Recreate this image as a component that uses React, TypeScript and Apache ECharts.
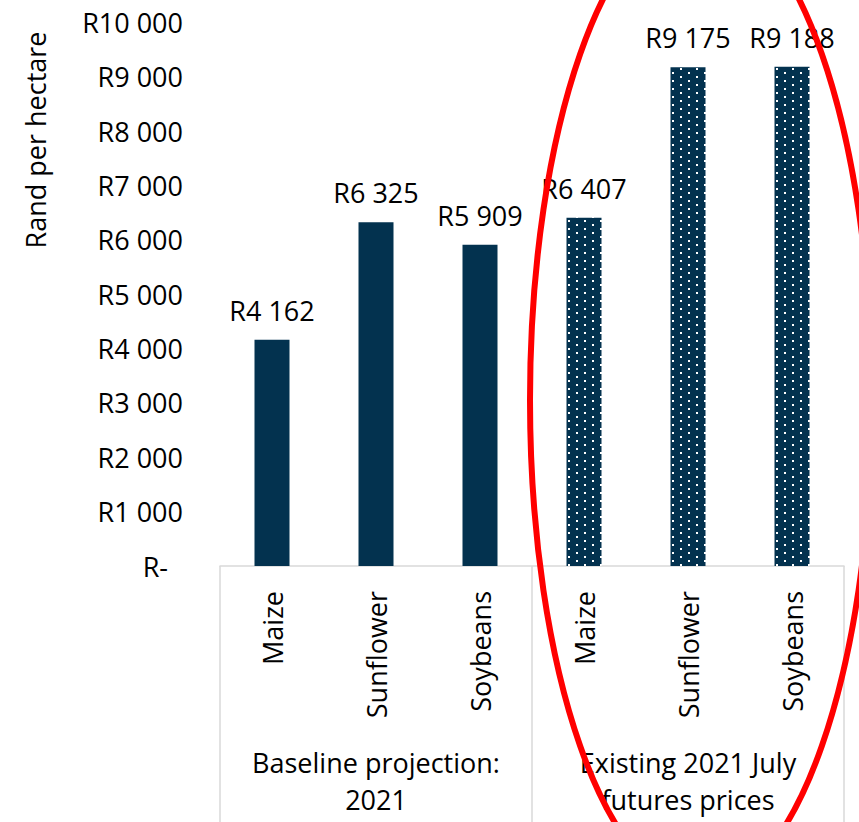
import React, { useEffect, useRef } from "react";
import * as echarts from "echarts";

const categories = ["Maize", "Sunflower", "Soybeans", "Maize", "Sunflower", "Soybeans"];
const groups = ["Baseline projection:\n2021", "Existing 2021 July\nfutures prices"];
const values = [4162, 6325, 5909, 6407, 9175, 9188];
const patterned = [false, false, false, true, true, true];
const yTicks = { min: 0, max: 10000, interval: 1000 };
const yAxisTitle = "Rand per hectare";

const NAVY = "#03324F";
const FONT = "Open Sans";

function fmtRand(v: number): string {
  if (v === 0) return "R-";
  const s = Math.round(v).toString().replace(/\B(?=(\d{3})+(?!\d))/g, " ");
  return "R" + s;
}

function makePattern(): HTMLCanvasElement {
  const c = document.createElement("canvas");
  c.width = 16;
  c.height = 8;
  const ctx = c.getContext("2d")!;
  ctx.fillStyle = NAVY;
  ctx.fillRect(0, 0, 16, 8);
  ctx.fillStyle = "#ffffff";
  ctx.fillRect(0, 0, 2, 2);
  ctx.fillRect(8, 4, 2, 2);
  return c;
}

export default function App() {
  const ref = useRef<HTMLDivElement>(null);
  useEffect(() => {
    if (!ref.current) return;
    const chart = echarts.init(ref.current, undefined, { renderer: "svg" });
    const pattern = makePattern();
    const data = values.map((v, i) => ({
      value: v,
      itemStyle: {
        color: patterned[i] ? { image: pattern, repeat: "repeat" } : NAVY,
      },
    }));
    chart.setOption({
      animation: false,
      backgroundColor: "#ffffff",
      textStyle: { fontFamily: FONT },
      grid: { left: 220, right: 15, top: 22.5, bottom: 256, containLabel: false },
      xAxis: [
        {
          type: "category",
          data: categories,
          position: "bottom",
          axisLine: { show: true, lineStyle: { color: "#d9d9d9", width: 1.5 } },
          axisTick: { show: false },
          axisLabel: {
            rotate: 90,
            margin: 25,
            fontSize: 27,
            color: "#000",
            fontFamily: FONT,
            interval: 0,
          },
        },
        {
          type: "category",
          data: groups,
          position: "bottom",
          axisLine: { show: false },
          axisTick: {
            show: true,
            alignWithLabel: false,
            length: 260,
            lineStyle: { color: "#d9d9d9", width: 1.5 },
          },
          axisLabel: {
            margin: 178,
            fontSize: 27,
            lineHeight: 37,
            color: "#000",
            fontFamily: FONT,
            interval: 0,
          },
        },
      ],
      yAxis: {
        type: "value",
        min: yTicks.min,
        max: yTicks.max,
        interval: yTicks.interval,
        axisLine: { show: false },
        axisTick: { show: false },
        splitLine: { show: false },
        axisLabel: {
          margin: 37,
          fontSize: 27,
          color: "#000",
          fontFamily: FONT,
          formatter: (v: number) => (v === 0 ? "{z|R-}" : fmtRand(v)),
          rich: {
            z: { fontSize: 27, fontFamily: FONT, color: "#000", padding: [0, 15, 0, 0] },
          },
        },
      },
      series: [
        {
          type: "bar",
          xAxisIndex: 0,
          data,
          barWidth: 35,
          label: {
            show: true,
            position: "top",
            distance: 16,
            fontSize: 27,
            lineHeight: 27,
            color: "#000",
            fontFamily: FONT,
            formatter: (p: any) => fmtRand(p.value),
          },
        },
      ],
      graphic: [
        {
          type: "text",
          x: 35,
          y: 140,
          rotation: Math.PI / 2,
          style: {
            text: yAxisTitle,
            fontSize: 27,
            fontFamily: FONT,
            fill: "#000",
            textAlign: "center",
            textVerticalAlign: "middle",
          },
        },
        {
          type: "ellipse",
          shape: { cx: 701, cy: 400, rx: 171, ry: 489 },
          style: { fill: "none", stroke: "#ff0000", lineWidth: 6 },
          z: 100,
        },
      ],
    });
    return () => chart.dispose();
  }, []);
  return (
    <div
      ref={ref}
      style={{ position: "fixed", left: 0, top: 0, width: 859, height: 822 }}
    />
  );
}
